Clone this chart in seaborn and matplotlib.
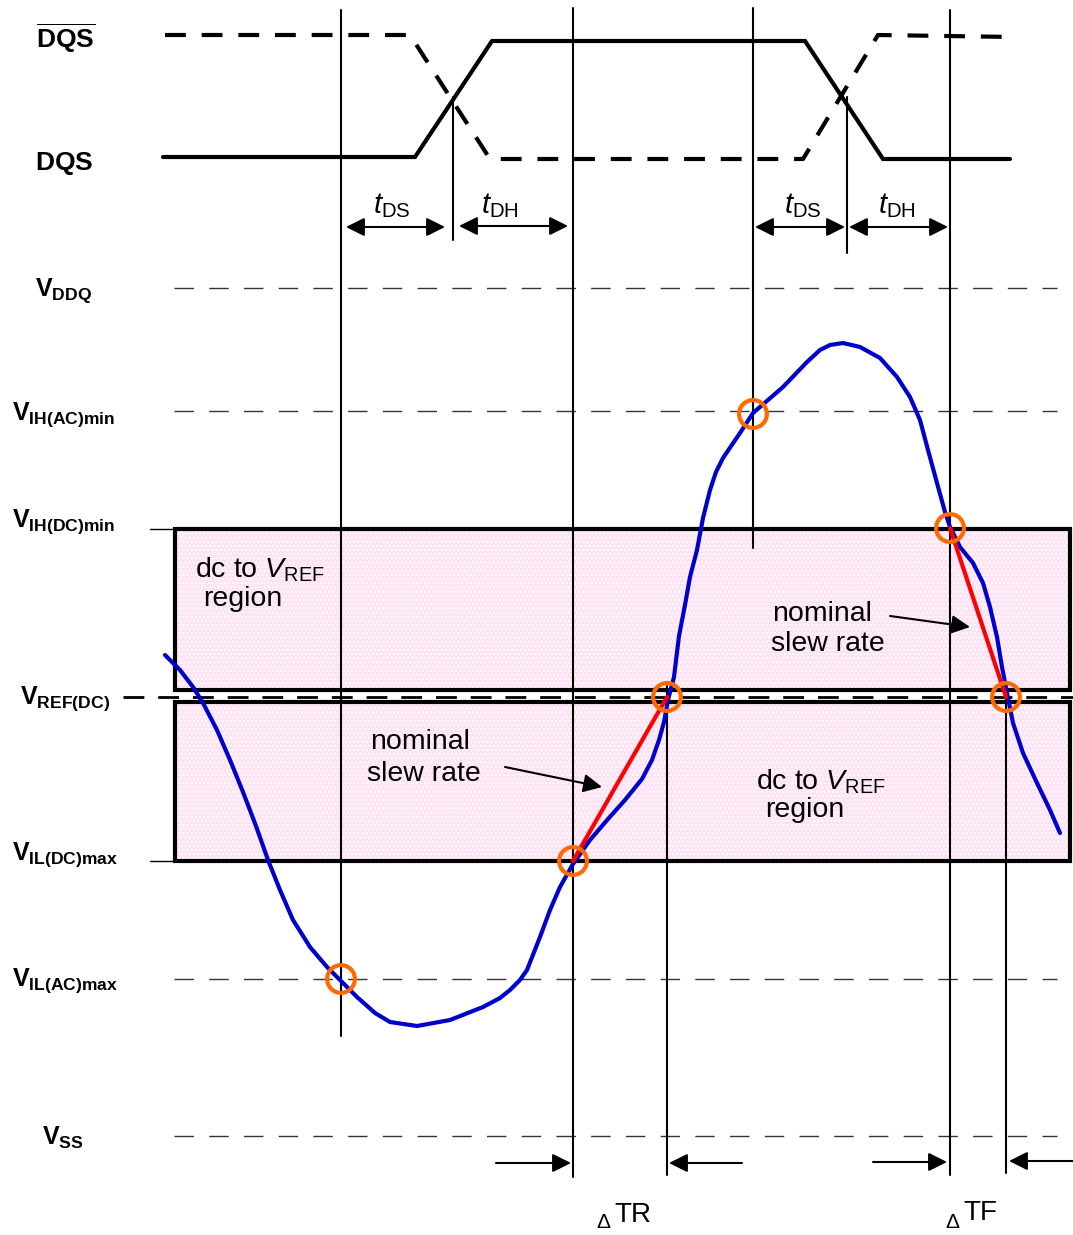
import seaborn as sns
import matplotlib.pyplot as plt
import pandas as pd
from matplotlib.patches import Rectangle

sns.set_theme(style='white')
plt.rcParams['font.family'] = ['Liberation Sans', 'DejaVu Sans']
plt.rcParams['text.color'] = 'black'
plt.rcParams['mathtext.fontset'] = 'custom'
plt.rcParams['mathtext.rm'] = 'Liberation Sans'
plt.rcParams['mathtext.it'] = 'Liberation Sans:italic'
plt.rcParams['mathtext.bf'] = 'Liberation Sans:bold'

# Diagram units follow the drawing: time to the right, voltage downwards.
level_names = [r'$\mathbf{V}_{\mathbf{DDQ}}$', r'$\mathbf{V}_{\mathbf{IH(AC)min}}$',
               r'$\mathbf{V}_{\mathbf{IH(DC)min}}$', r'$\mathbf{V}_{\mathbf{REF(DC)}}$',
               r'$\mathbf{V}_{\mathbf{IL(DC)max}}$', r'$\mathbf{V}_{\mathbf{IL(AC)max}}$',
               r'$\mathbf{V}_{\mathbf{SS}}$']
level_v = [288, 411, 529, 697, 861, 979, 1136]

# DQS strobe pair
dqs_t = [163, 415, 492, 805, 883, 1010]
dqs_v = [157, 157, 41, 41, 159, 159]
dqsb_t = [165, 410, 490, 803, 878, 1015]
dqsb_v = [35, 35, 159, 159, 35, 37]

# input signal
sig_t = [165, 180, 193, 203, 217, 230, 243, 256, 268, 280, 293, 310, 327, 340, 357,
         375, 390, 417, 450, 483, 500, 510, 520, 527, 540, 550, 560, 573, 590, 608,
         625, 642, 652, 659, 664, 668, 674, 679, 685, 690, 697, 703, 710, 716, 723,
         740, 753, 768, 783, 807, 820, 830, 843, 860, 880, 897, 910, 920, 928, 937,
         945, 950, 960, 973, 983, 990, 997, 1002, 1007, 1013, 1023, 1037, 1050, 1060]
sig_v = [655, 670, 687, 703, 730, 760, 792, 826, 860, 890, 920, 947, 967, 980, 997,
         1013, 1022, 1026, 1020, 1007, 998, 990, 980, 970, 937, 910, 887, 864, 840, 819,
         800, 779, 760, 740, 722, 700, 677, 636, 605, 577, 550, 518, 490, 472, 458,
         433, 413, 400, 387, 362, 350, 345, 343, 347, 358, 377, 397, 420, 450, 483,
         512, 527, 547, 563, 583, 607, 637, 667, 693, 723, 753, 783, 810, 833]

# crossing points (circled) and nominal slew lines
cross_t = [341, 573, 667, 753, 950, 1006]
cross_v = [979, 861, 697, 414, 528, 697]
slew_rise_t = [573, 667]
slew_rise_v = [861, 697]
slew_fall_t = [950, 1006]
slew_fall_v = [528, 697]

# timing markers: t, top, bottom
marker_t = [341, 573, 753, 950, 453, 847, 667, 1006]
marker_top = [10, 8, 8, 10, 97, 97, 686, 686]
marker_bot = [1036, 1177, 548, 1175, 240, 253, 1175, 1173]

fig = plt.figure(figsize=(10.73, 12.35), dpi=100)
ax = fig.add_axes([0, 0, 1, 1])

pink = '#fde3f4'
# dc to VREF regions
for top, bot in [(level_v[2], 690), (702, level_v[4])]:
    ax.add_patch(Rectangle((175, top), 895, bot - top, facecolor=pink, edgecolor='none', zorder=1))
    ax.add_patch(Rectangle((175, top), 895, bot - top, facecolor='none', edgecolor='white',
                           hatch='....', lw=0, zorder=1.1))
    ax.add_patch(Rectangle((175, top), 895, bot - top, facecolor='none', edgecolor='black',
                           lw=3, zorder=3))

# level lines
for i, v in enumerate(level_v):
    if i in (2, 4):
        ax.plot([150, 176], [v, v], color='black', lw=1, zorder=2)
    elif i == 3:
        ax.plot([123, 1073], [v, v], color='black', lw=2, dashes=(7.5, 5), zorder=2)
    else:
        ax.plot([174, 1057], [v, v], color='#333333', lw=1, dashes=(14, 11), zorder=2)

label_x = [35, 12, 12, 20, 12, 12, 42]
label_base = [296, 420, 527, 704, 860, 986, 1145]
for name, x, y in zip(level_names, label_x, label_base):
    ax.text(x, y, name, fontsize=18, va='baseline', ha='left')
ax.text(36, 48, r'$\overline{\mathbf{DQS}}$', fontsize=19, va='baseline', ha='left')
ax.text(35, 170, r'$\mathbf{DQS}$', fontsize=19, va='baseline', ha='left')

# strobes
ax.plot(dqs_t, dqs_v, color='black', lw=3, solid_joinstyle='miter', zorder=4)
ax.plot(dqsb_t, dqsb_v, color='black', lw=3, dashes=(5, 3.8), zorder=4)

for t, a, b in zip(marker_t, marker_top, marker_bot):
    ax.plot([t, t], [a, b], color='black', lw=1.5, zorder=4)

# signal
df = pd.DataFrame({'t': sig_t, 'v': sig_v})
sns.lineplot(data=df, x='t', y='v', sort=False, estimator=None, color='#0000cc',
             lw=3, solid_joinstyle='round', solid_capstyle='round', ax=ax, zorder=5)
ax.plot(slew_rise_t, slew_rise_v, color='#ff0000', lw=3, zorder=6)
ax.plot(slew_fall_t, slew_fall_v, color='#ff0000', lw=3, zorder=6)
ax.scatter(cross_t, cross_v, s=400, facecolors='none', edgecolors='#ff6a00', linewidths=3, zorder=7)

arrow = dict(arrowstyle='-|>,head_length=0.8,head_width=0.4', color='black', lw=1.5,
             shrinkA=0, shrinkB=0, mutation_scale=14)
darrow = dict(arrowstyle='<|-|>,head_length=0.8,head_width=0.4', color='black', lw=1.5,
              shrinkA=0, shrinkB=0, mutation_scale=14)

# setup / hold
for a, b, yy in [(346, 445, 227), (459, 568, 226), (755, 845, 227), (849, 948, 227)]:
    ax.annotate('', xy=(b, yy), xytext=(a, yy), arrowprops=darrow, zorder=8)
for x, lab in [(392, 'DS'), (500, 'DH'), (803, 'DS'), (897, 'DH')]:
    ax.text(x, 213, r'$\mathit{t}_{\mathrm{' + lab + '}}$', fontsize=21, ha='center', va='baseline')

# bottom delta arrows
for a, b, yy in [(496, 571, 1163), (742, 669, 1163), (873, 947, 1162), (1073, 1009, 1161)]:
    ax.annotate('', xy=(b, yy), xytext=(a, yy), arrowprops=arrow, zorder=8)
ax.text(603, 1228, '\u0394', fontsize=15, ha='center', va='baseline')
ax.text(614, 1222, 'TR', fontsize=20, ha='left', va='baseline')
ax.text(952, 1228, '\u0394', fontsize=15, ha='center', va='baseline')
ax.text(963, 1220, 'TF', fontsize=20, ha='left', va='baseline')

# region notes
ax.text(195, 578, r'dc to $\mathit{V}_{\mathrm{REF}}$', fontsize=20.5, va='baseline', zorder=8)
ax.text(203, 606, 'region', fontsize=20.5, va='baseline', zorder=8)
ax.text(756, 789, r'dc to $\mathit{V}_{\mathrm{REF}}$', fontsize=20.5, va='baseline', zorder=8)
ax.text(765, 817, 'region', fontsize=20.5, va='baseline', zorder=8)

ax.text(370, 749, 'nominal', fontsize=20.5, va='baseline', zorder=8)
ax.text(367, 781, 'slew rate', fontsize=20.5, va='baseline', zorder=8)
ax.text(772, 621, 'nominal', fontsize=20.5, va='baseline', zorder=8)
ax.text(771, 651, 'slew rate', fontsize=20.5, va='baseline', zorder=8)
ax.annotate('', xy=(602, 787), xytext=(505, 767), arrowprops=arrow, zorder=8)
ax.annotate('', xy=(970, 627), xytext=(890, 616), arrowprops=arrow, zorder=8)

ax.set_xlim(0, 1073)
ax.set_ylim(1235, 0)
ax.set_axis_off()

plt.savefig('out.png', dpi=100)
